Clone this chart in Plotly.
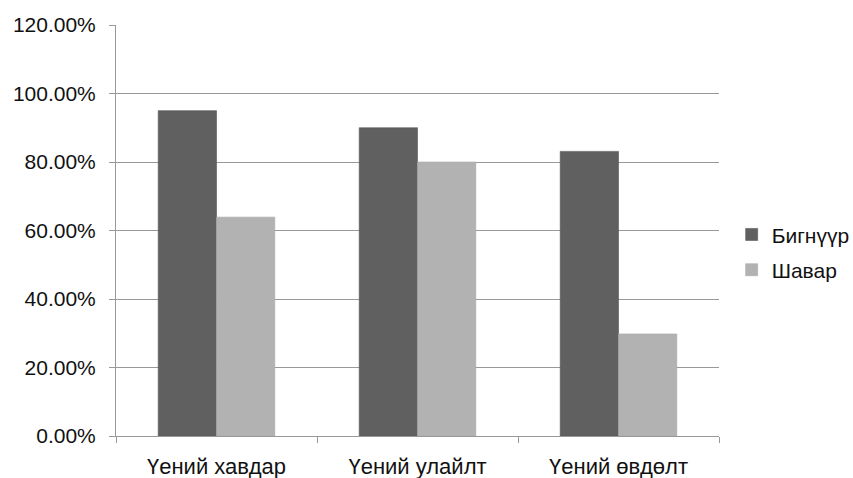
import plotly.graph_objects as go

categories = ["Үений хавдар", "Үений улайлт", "Үений өвдөлт"]
bignuur = [0.95, 0.90, 0.831]
shavar = [0.639, 0.80, 0.298]
series_names = ["Бигнүүр", "Шавар"]
y_ticks = [0, 0.2, 0.4, 0.6, 0.8, 1.0, 1.2]

font = "Liberation Sans, Arial, sans-serif"

fig = go.Figure()
fig.add_trace(go.Bar(
    x=categories, y=bignuur, name=series_names[0], legendgroup="g1",
    marker=dict(color="#606060", line=dict(color="#555555", width=0.6)),
))
fig.add_trace(go.Bar(
    x=categories, y=shavar, name=series_names[1], legendgroup="g2",
    marker=dict(color="#b2b2b2", line=dict(color="#a8a8a8", width=0.6)),
))

fig.update_layout(
    width=853, height=478,
    margin=dict(l=116, r=134, t=25, b=42, autoexpand=False),
    paper_bgcolor="white", plot_bgcolor="white",
    barmode="group", bargap=0.42, bargroupgap=0,
    font=dict(family=font, size=21, color="#111111"),
    showlegend=True,
    legend=dict(
        x=1.021, y=0.447, xanchor="left", yanchor="middle",
        font=dict(family=font, size=21, color="#111111"),
        itemwidth=30, traceorder="grouped", tracegroupgap=5,
        bgcolor="rgba(0,0,0,0)",
    ),
)

fig.update_xaxes(
    showline=True, linecolor="#999999", linewidth=1,
    ticks="outside", tickson="boundaries", ticklen=6, tickcolor="#999999",
    tickfont=dict(family=font, size=22, color="#111111"),
    ticklabelstandoff=11,
    showgrid=False,
)
fig.update_yaxes(
    range=[0, 1.2], tickvals=y_ticks, tickformat=".2%",
    showline=True, linecolor="#999999", linewidth=1,
    ticks="outside", ticklen=6, tickcolor="#999999",
    showgrid=True, gridcolor="#999999", gridwidth=1,
    zeroline=False,
    tickfont=dict(family=font, size=21, color="#111111"),
    ticklabelstandoff=9,
)

fig.write_html("out.html")
